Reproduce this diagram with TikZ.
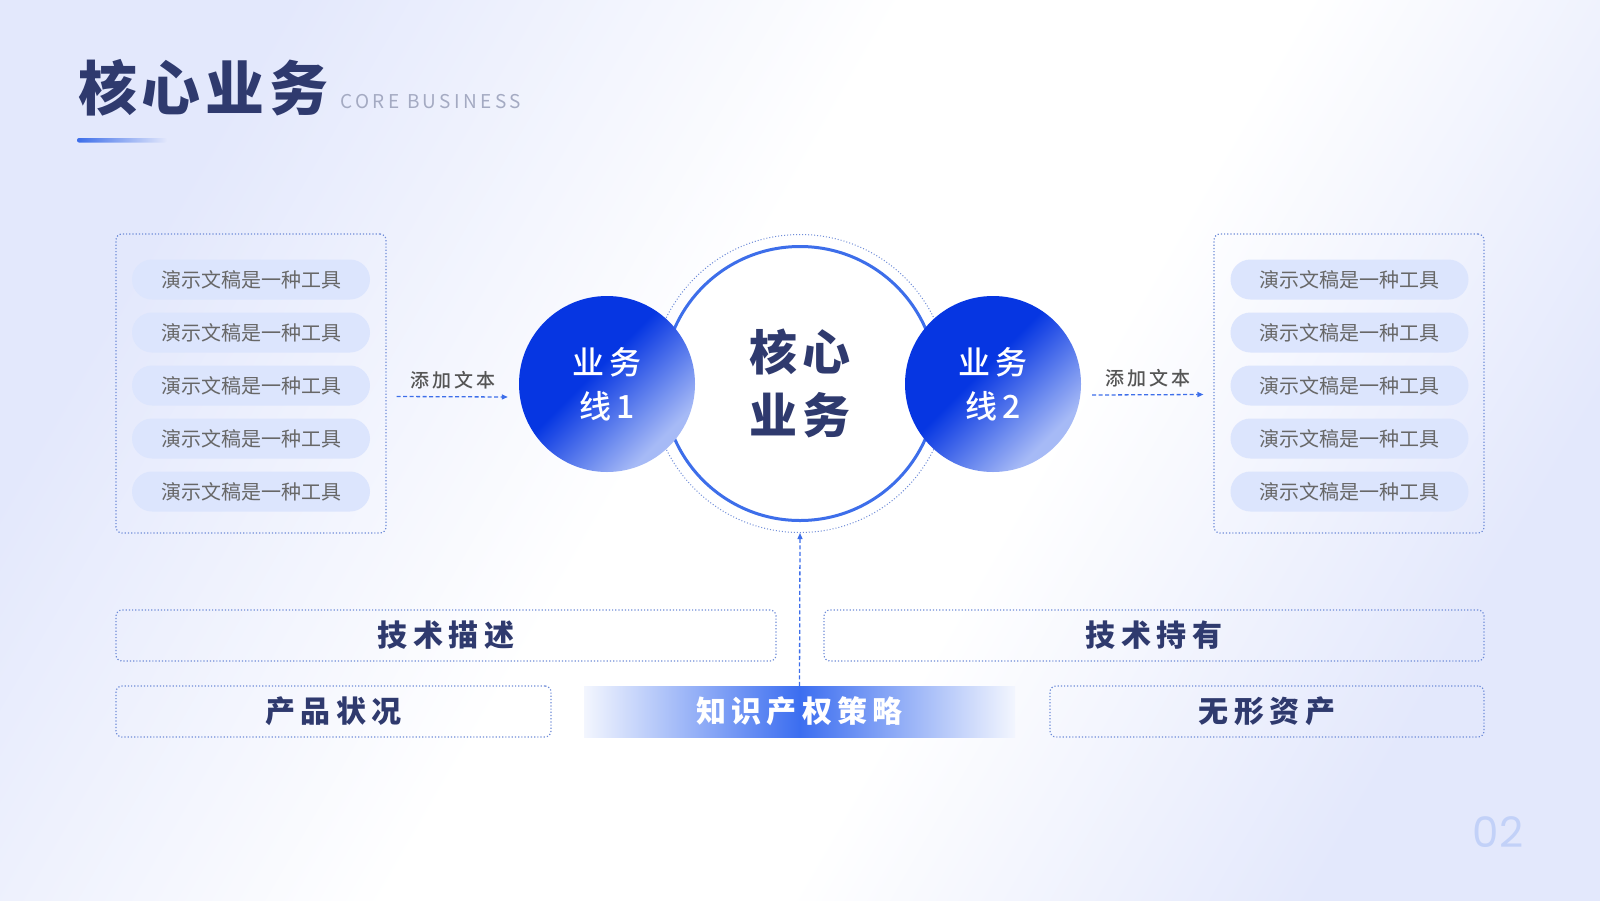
\documentclass[tikz,border=0pt]{standalone}
\usepackage{fontspec}
\setmainfont{Noto Sans CJK SC}
\newfontfamily\titlefont[LetterSpace=8]{Noto Sans CJK SC}
\newfontfamily\subfont[LetterSpace=18]{Noto Sans CJK SC}
\newfontfamily\widefont[LetterSpace=18]{Noto Sans CJK SC}
\newfontfamily\medfont[LetterSpace=16]{Noto Sans CJK SC Medium}
\newfontfamily\corefont[LetterSpace=10]{Noto Sans CJK SC}
\newfontfamily\numfont{Poppins}
\usetikzlibrary{arrows.meta,fadings,shapes.misc}

\definecolor{navy}{HTML}{2F3A6E}
\definecolor{deepblue}{HTML}{0636E2}
\definecolor{paleblue}{HTML}{A6BAF6}
\definecolor{ringblue}{HTML}{3D6EEA}
\definecolor{dotblue}{HTML}{6F8CD8}
\definecolor{pillfill}{HTML}{DCE5FD}
\definecolor{pilltext}{HTML}{676767}
\definecolor{tagtext}{HTML}{555555}
\definecolor{subgray}{HTML}{A4AAC2}
\definecolor{bgtint}{HTML}{E3E8FC}
\definecolor{barblue}{HTML}{3C6EF0}
\definecolor{barend}{HTML}{F3F6FE}
\definecolor{pagenum}{HTML}{C2D1F8}

\pgfdeclarehorizontalshading{pagebg}{100bp}{color(0bp)=(bgtint); color(25bp)=(bgtint); color(45bp)=(white); color(58bp)=(white); color(75bp)=(bgtint); color(100bp)=(bgtint)}
\pgfdeclarehorizontalshading{ballshade}{100bp}{color(0bp)=(deepblue); color(45bp)=(deepblue); color(72bp)=(paleblue); color(100bp)=(paleblue)}
\pgfdeclarehorizontalshading{barshade}{100bp}{color(0bp)=(barend); color(25bp)=(barend); color(50bp)=(barblue); color(75bp)=(barend); color(100bp)=(barend)}

\begin{document}
\begin{tikzpicture}[x=1pt,y=-1pt,
  frame/.style={draw=dotblue, dotted, line width=1.2pt, rounded corners=6pt, inner sep=0pt},
  pill/.style={rounded rectangle, fill=pillfill, minimum width=238pt, minimum height=40pt, inner sep=0pt, text=pilltext, font=\fontsize{20}{20}\selectfont},
  ball/.style={circle, minimum size=176pt, shading=ballshade, shading angle=-45, text=white, align=center, font=\medfont\fontsize{32}{44}\selectfont},
  tag/.style={text=tagtext, font=\medfont\fontsize{19}{19}\selectfont},
  link/.style={draw=ringblue, dashed, dash pattern=on 4pt off 2.5pt, line width=1.3pt, -{Triangle[length=6pt,width=5pt]}},
  bar/.style={frame, minimum height=51pt, text=navy, font=\widefont\bfseries\fontsize{30}{30}\selectfont}]
\shade[shading=pagebg, shading angle=-30] (0,0) rectangle (1600,900);
\useasboundingbox (0,0) rectangle (1600,900);

% heading
\node[anchor=west, inner sep=0pt, text=navy, font=\titlefont\bfseries\fontsize{59}{59}\selectfont] (title) at (78,88) {核心业务};
\node[anchor=base west, inner sep=0pt, text=subgray, font=\subfont\fontsize{19}{19}\selectfont] (subtitle) at (340,108) {CORE BUSINESS};
\fill[ringblue, path fading=east, rounded corners=2pt] (77,138) rectangle (167,142.5);

% side lists
\node[frame, minimum width=270pt, minimum height=299pt] (lbox) at (251,383.5) {};
\node[frame, minimum width=270pt, minimum height=299pt] (rbox) at (1349,383.5) {};
\foreach \i in {1,...,5} {
  \node[pill] (lp\i) at (251,{226.5+53*\i}) {演示文稿是一种工具};
  \node[pill] (rp\i) at (1349.5,{226.5+53*\i}) {演示文稿是一种工具};
}

% centre
\node[circle, draw=dotblue, dotted, line width=1pt, minimum size=298pt, inner sep=0pt] (core) at (800,383.5) {};
\draw[ringblue, line width=3pt, fill=white] (core.center) circle (137);
\node[text=navy, align=center, font=\corefont\bfseries\fontsize{48}{63}\selectfont] (coretext) at (core.center) {核心\\业务};
\node[ball] (line1) at (607,384) {业务\\线1};
\node[ball] (line2) at (993,384) {业务\\线2};

\node[tag] (tagl) at (453,380) {添加文本};
\node[tag] (tagr) at (1148,378) {添加文本};
\draw[link] ([shift={(10,13)}]lbox.east) -- ([shift={(-11,13)}]line1.west);
\draw[link] ([shift={(11,11)}]line2.east) -- ([shift={(-10,11)}]rbox.west);

% bottom rows
\node[bar, minimum width=660pt] (techdesc) at (446,635.5) {技术描述};
\node[bar, minimum width=660pt] (techhold) at (1154,635.5) {技术持有};
\node[bar, minimum width=435pt] (product) at (333.5,711.5) {产品状况};
\node[bar, minimum width=434pt] (asset) at (1267,711.5) {无形资产};
\node[minimum width=431pt, minimum height=51pt, inner sep=0pt, shading=barshade, text=white, font=\widefont\bfseries\fontsize{30}{30}\selectfont] (ipbar) at (799.5,711.5) {知识产权策略};
\draw[link] (ipbar.north) -- (core.south);

\node[text=pagenum, font=\numfont\fontsize{42}{42}\selectfont] (pageno) at (1498,832) {02};
\end{tikzpicture}
\end{document}
